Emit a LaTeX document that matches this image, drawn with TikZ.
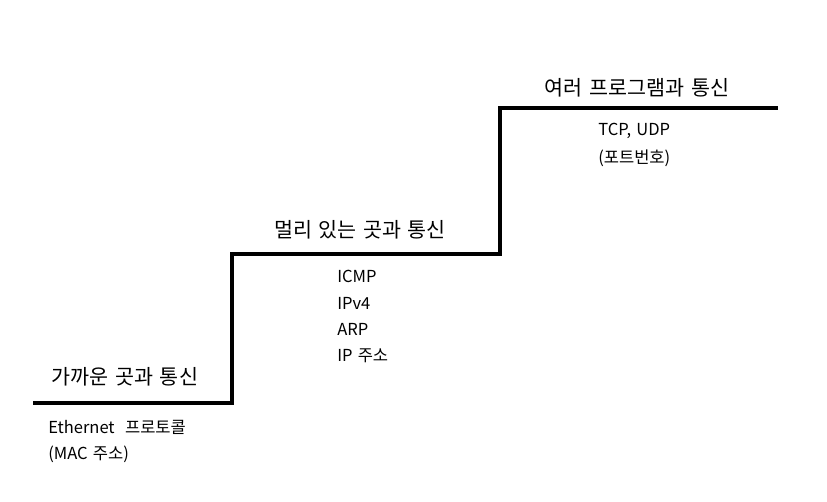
\documentclass[tikz,border=0pt]{standalone}
\usepackage{fontspec}
\setmainfont[WordSpace=1.4]{Noto Sans CJK KR}
\begin{document}
\begin{tikzpicture}[x=0.75pt,y=-0.75pt,
  title/.style={font=\fontsize{15.5pt}{18pt}\selectfont, inner sep=0pt, anchor=center},
  item/.style={font=\fontsize{12.4pt}{14pt}\selectfont, inner sep=0pt, anchor=west},
  stair/.style={line width=2.3pt, line join=miter}]
\useasboundingbox (0,0) rectangle (827,501);
\fill[white] (0,0) rectangle (827,501);
\coordinate (s0) at (33,403);
\coordinate (s1) at (232,403);
\coordinate (s2) at (232,254);
\coordinate (s3) at (500,254);
\coordinate (s4) at (500,108);
\coordinate (s5) at (778,108);
\draw[stair] (s0) -- (s1) -- (s2) -- (s3) -- (s4) -- (s5);
\node[title] (t1) at (125,377) {가까운 곳과 통신};
\node[title] (t2) at (360,230) {멀리 있는 곳과 통신};
\node[title] (t3) at (637,88) {여러 프로그램과 통신};
\node[item] (a1) at (48,427) {Ethernet\ \ 프로토콜};
\node[item] (a2) at (48,454) {(MAC 주소)};
\node[item] (b1) at (337,276) {ICMP};
\node[item] (b2) at (337,303) {IPv4};
\node[item] (b3) at (337,329) {ARP};
\node[item] (b4) at (337,356) {IP 주소};
\node[item] (c1) at (598,131) {TCP, UDP};
\node[item] (c2) at (598,158) {(포트번호)};
\end{tikzpicture}
\end{document}
